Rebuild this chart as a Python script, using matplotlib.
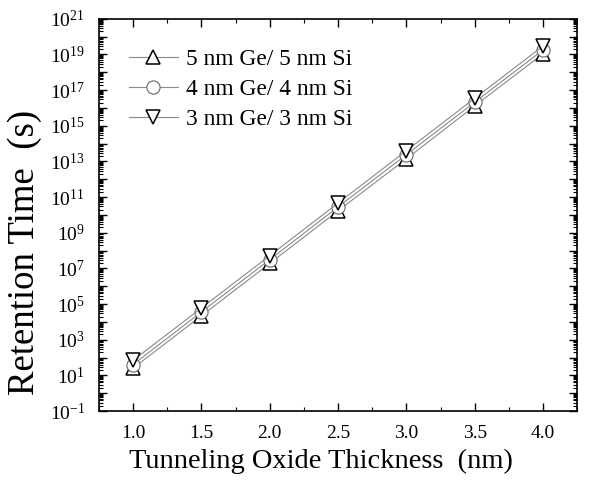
import numpy as np
import matplotlib
matplotlib.use('Agg')
import matplotlib.pyplot as plt
from matplotlib import ticker

plt.rcParams['font.family'] = ['Liberation Serif', 'DejaVu Serif']
plt.rcParams['mathtext.fontset'] = 'custom'
plt.rcParams['mathtext.rm'] = 'Liberation Serif'
plt.rcParams['mathtext.it'] = 'Liberation Serif:italic'

# 데이터
thickness = [1.0, 1.5, 2.0, 2.5, 3.0, 3.5, 4.0]
t_5nm = [25, 2.2e4, 1.9e7, 1.7e10, 1.4e13, 1.3e16, 1.1e19]
t_4nm = [40, 3.6e4, 3.1e7, 2.8e10, 2.4e13, 2.1e16, 1.8e19]
t_3nm = [70, 6.0e4, 5.2e7, 4.6e10, 4.0e13, 3.5e16, 3.0e19]

fig = plt.figure(figsize=(5.92, 4.83), dpi=100)
ax = fig.add_axes([0.167, 0.149, 0.808, 0.812])

style = dict(color='#8a8a8a', lw=0.8, markersize=9.5, markerfacecolor='white',
             markeredgecolor='black', markeredgewidth=1.1)
ax.plot(thickness, t_5nm, marker='^', label='5 nm Ge/ 5 nm Si', **style)
ax.plot(thickness, t_4nm, marker='o', label='4 nm Ge/ 4 nm Si',
        **{**style, 'markeredgecolor': '#666666', 'markeredgewidth': 0.8})
ax.plot(thickness, t_3nm, marker='v', label='3 nm Ge/ 3 nm Si', **style)

ax.set_yscale('log')
ax.set_xlim(0.75, 4.25)
ax.set_ylim(1e-1, 1e21)

ax.xaxis.set_major_locator(ticker.MultipleLocator(0.5))
ax.xaxis.set_minor_locator(ticker.MultipleLocator(0.25))
ax.xaxis.set_major_formatter(ticker.FormatStrFormatter('%.1f'))

ax.yaxis.set_major_locator(ticker.LogLocator(base=10, numticks=40))
ax.yaxis.set_minor_locator(ticker.LogLocator(base=10, subs=np.arange(2, 10), numticks=40))


def fmt(v, pos):
    e = int(round(np.log10(v)))
    if e % 2 == 0:
        return ''
    return r'$\mathregular{10^{%d}}$' % e


ax.yaxis.set_major_formatter(ticker.FuncFormatter(fmt))
ax.yaxis.set_minor_formatter(ticker.NullFormatter())

ax.tick_params(which='both', direction='in', top=True, right=True, labelsize=14)
ax.tick_params(which='major', length=6, width=1.0)
ax.tick_params(which='minor', length=3, width=0.8)
ax.tick_params(axis='x', pad=10)
ax.tick_params(axis='y', pad=10)
for s in ax.spines.values():
    s.set_linewidth(1.2)

ax.set_xlabel('Tunneling Oxide Thickness  (nm)', fontsize=20.5)
ax.set_ylabel('Retention Time  (s)', fontsize=26.5)
ax.xaxis.set_label_coords(0.464, -0.097)
ax.yaxis.set_label_coords(-0.118, 0.405)

ax.legend(loc='upper left', frameon=False, fontsize=16.8, handlelength=2.1,
          handletextpad=0.35, labelspacing=0.36, borderaxespad=0,
          bbox_to_anchor=(0.043, 0.947))

fig.savefig('out.png', dpi=100, facecolor='white')
